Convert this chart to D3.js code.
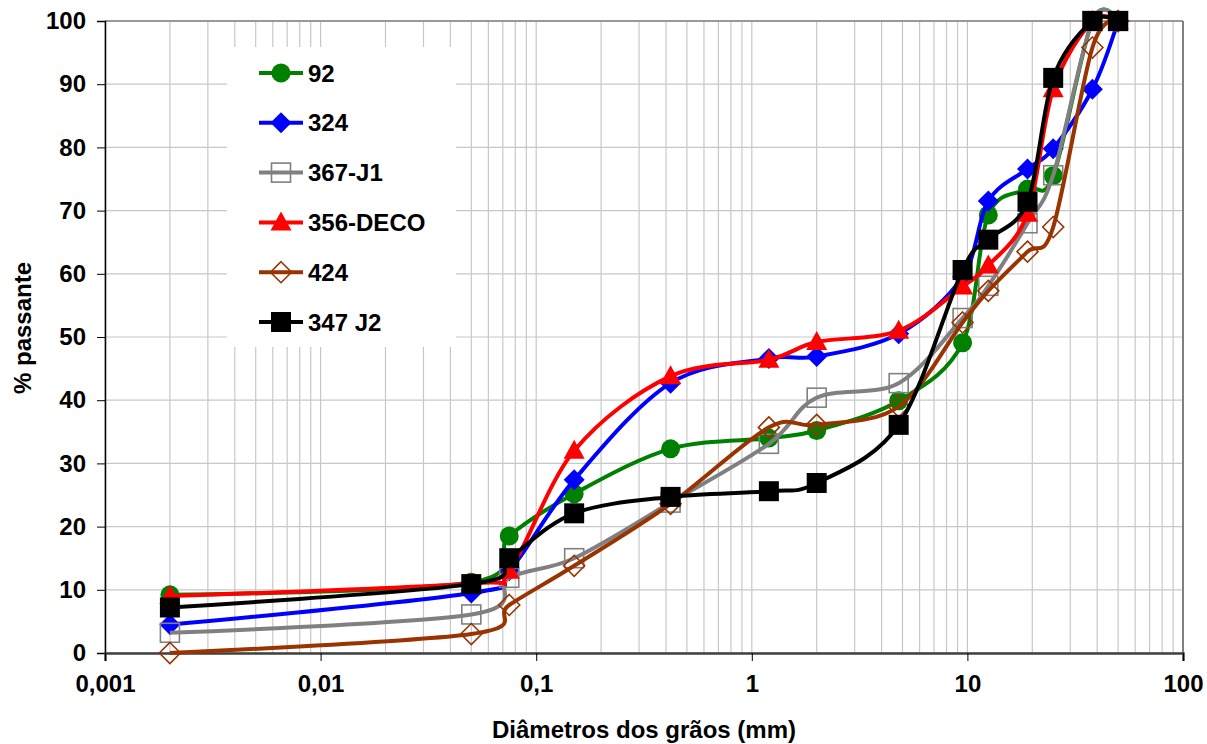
<!DOCTYPE html>
<html>
<head>
<meta charset="utf-8">
<script src="https://cdnjs.cloudflare.com/ajax/libs/d3/7.8.5/d3.min.js"></script>
<style>
  body { margin: 0; background: #fff; }
  svg text { font-family: "Liberation Sans", Arial, sans-serif; font-weight: bold; }
</style>
</head>
<body>
<svg id="chart"></svg>
<script>
// sieve sizes (mm)
const sizes = [0.002, 0.05, 0.075, 0.15, 0.42, 1.2, 2.0, 4.8, 9.5, 12.5, 19, 25, 38, 50]

const s92     = [9.2, 11.2, 18.5, 25.2, 32.3, 34.0, 35.2, 39.9, 49.1, 69.3, 73.4, 75.5, 100, 100]
const s324    = [4.5, 9.5, 13.0, 27.4, 42.7, 46.6, 46.9, 50.5, 59.5, 71.5, 76.6, 79.8, 89.2, 100]
const s367J1  = [3.2, 6.1, 11.9, 15.0, 23.8, 33.1, 40.4, 42.7, 53.0, 58.1, 68.0, 75.6, 100, 100]
const s356    = [9.0, 11.0, 13.0, 32.0, 43.8, 46.4, 49.2, 51.0, 58.0, 61.3, 69.5, 89.2, 100, 100]
const s424    = [0.0, 3.0, 7.6, 13.8, 23.6, 35.7, 36.1, 39.0, 52.3, 57.3, 63.5, 67.4, 95.8, 100]
const s347J2  = [7.2, 10.9, 15.0, 22.1, 24.7, 25.6, 26.9, 36.1, 60.6, 65.4, 71.4, 91.0, 100, 100]

const seriesNames = ["92", "324", "367-J1", "356-DECO", "424", "347 J2"]
const seriesValues = [s92, s324, s367J1, s356, s424, s347J2]
const seriesColors = ["#008000", "#0000ff", "#808080", "#ff0000", "#993300", "#000000"]
const seriesMarkers = ["circle", "diamond", "openSquare", "triangle", "openDiamond", "square"]

const xTicks = [0.001, 0.01, 0.1, 1, 10, 100]
const xTickLabels = ["0,001", "0,01", "0,1", "1", "10", "100"]
const yTicks = [0, 10, 20, 30, 40, 50, 60, 70, 80, 90, 100]

const W = 1207, H = 744
const pLeft = 105, pRight = 1183, pTop = 21, pBottom = 653
const fs = "24px"

const svg = d3.select("#chart")
    .attr("width", W)
    .attr("height", H)

const x = d3.scaleLog().domain([0.001, 100]).range([pLeft, pRight])
const y = d3.scaleLinear().domain([0, 100]).range([pBottom, pTop])

// grid
const minor = []
for (let e = -3; e < 2; e++) {
    for (let k = 1; k < 10; k++) minor.push(k * Math.pow(10, e))
}
minor.push(100)

svg.append("g")
    .selectAll("line")
    .data(minor)
    .join("line")
    .attr("x1", d => x(d)).attr("x2", d => x(d))
    .attr("y1", pTop).attr("y2", pBottom)
    .attr("stroke", "#c8c8c8")
    .attr("stroke-width", 1.2)

svg.append("g")
    .selectAll("line")
    .data(yTicks)
    .join("line")
    .attr("x1", pLeft).attr("x2", pRight)
    .attr("y1", d => y(d)).attr("y2", d => y(d))
    .attr("stroke", "#c8c8c8")
    .attr("stroke-width", 1.2)

// frame top & right
svg.append("line")
    .attr("x1", pLeft).attr("x2", pRight).attr("y1", pTop).attr("y2", pTop)
    .attr("stroke", "#808080").attr("stroke-width", 1.5)
svg.append("line")
    .attr("x1", pRight).attr("x2", pRight).attr("y1", pTop).attr("y2", pBottom)
    .attr("stroke", "#808080").attr("stroke-width", 2)

// legend background (covers grid)
const legend = svg.append("g")
legend.append("rect")
    .attr("x", 227).attr("y", 47)
    .attr("width", 229).attr("height", 300)
    .attr("fill", "#fff")

// axes
const yAxis = svg.append("g")
    .attr("transform", `translate(${pLeft},0)`)
    .call(d3.axisLeft(y).tickValues(yTicks).tickSize(8).tickPadding(11).tickFormat(d3.format("d")))
yAxis.select(".domain").attr("stroke", "#000").attr("stroke-width", 1.5)
yAxis.selectAll(".tick line").attr("stroke", "#000")
yAxis.selectAll("text").style("font-size", fs).attr("fill", "#000")

const xAxis = svg.append("g")
    .attr("transform", `translate(0,${pBottom})`)
    .call(d3.axisBottom(x).tickValues(xTicks).tickSize(8).tickPadding(14)
        .tickFormat((d, i) => xTickLabels[i]))
xAxis.select(".domain").attr("stroke", "#404040").attr("stroke-width", 2.5)
xAxis.selectAll(".tick line").attr("stroke", "#000")
xAxis.selectAll("text").style("font-size", fs).attr("fill", "#000")

svg.append("text")
    .attr("x", 644).attr("y", 738)
    .attr("text-anchor", "middle")
    .style("font-size", fs)
    .text("Diâmetros dos grãos (mm)")

svg.append("text")
    .attr("transform", "translate(31,328) rotate(-90)")
    .attr("text-anchor", "middle")
    .style("font-size", fs)
    .text("% passante")

// markers
function drawMarker(g, type, color, cx, cy) {
    if (type == "circle") {
        g.append("circle").attr("cx", cx).attr("cy", cy).attr("r", 9.5).attr("fill", color)
    } else if (type == "square") {
        g.append("rect").attr("x", cx - 10).attr("y", cy - 10).attr("width", 20).attr("height", 20).attr("fill", color)
    } else if (type == "openSquare") {
        g.append("rect").attr("x", cx - 9.5).attr("y", cy - 9.5).attr("width", 19).attr("height", 19)
            .attr("fill", "none").attr("stroke", color).attr("stroke-width", 1.6)
    } else if (type == "diamond" || type == "openDiamond") {
        const r = 10.5
        const p = g.append("path")
            .attr("d", `M${cx},${cy - r}L${cx + r},${cy}L${cx},${cy + r}L${cx - r},${cy}Z`)
        if (type == "diamond") p.attr("fill", color)
        else p.attr("fill", "none").attr("stroke", color).attr("stroke-width", 1.6)
    } else if (type == "triangle") {
        g.append("path")
            .attr("d", `M${cx},${cy - 11}L${cx + 10.5},${cy + 8}L${cx - 10.5},${cy + 8}Z`)
            .attr("fill", color)
    }
}

const line = d3.line()
    .x(d => x(d[0]))
    .y(d => y(d[1]))
    .curve(d3.curveCardinal.tension(0))

seriesValues.forEach((vals, i) => {
    const pts = sizes.map((s, j) => [s, vals[j]])
    const g = svg.append("g")
    g.append("path")
        .attr("d", line(pts))
        .attr("fill", "none")
        .attr("stroke", seriesColors[i])
        .attr("stroke-width", 4)
        .attr("stroke-linejoin", "round")
    pts.forEach(p => drawMarker(g, seriesMarkers[i], seriesColors[i], x(p[0]), y(p[1])))
})

// legend entries
seriesNames.forEach((name, i) => {
    const ly = 73 + i * 49.8
    const g = legend.append("g")
    g.append("line")
        .attr("x1", 259).attr("x2", 303).attr("y1", ly).attr("y2", ly)
        .attr("stroke", seriesColors[i]).attr("stroke-width", 4)
    drawMarker(g, seriesMarkers[i], seriesColors[i], 281, ly)
    g.append("text")
        .attr("x", 308).attr("y", ly)
        .attr("dy", "0.36em")
        .style("font-size", fs)
        .text(name)
})
</script>
</body>
</html>
